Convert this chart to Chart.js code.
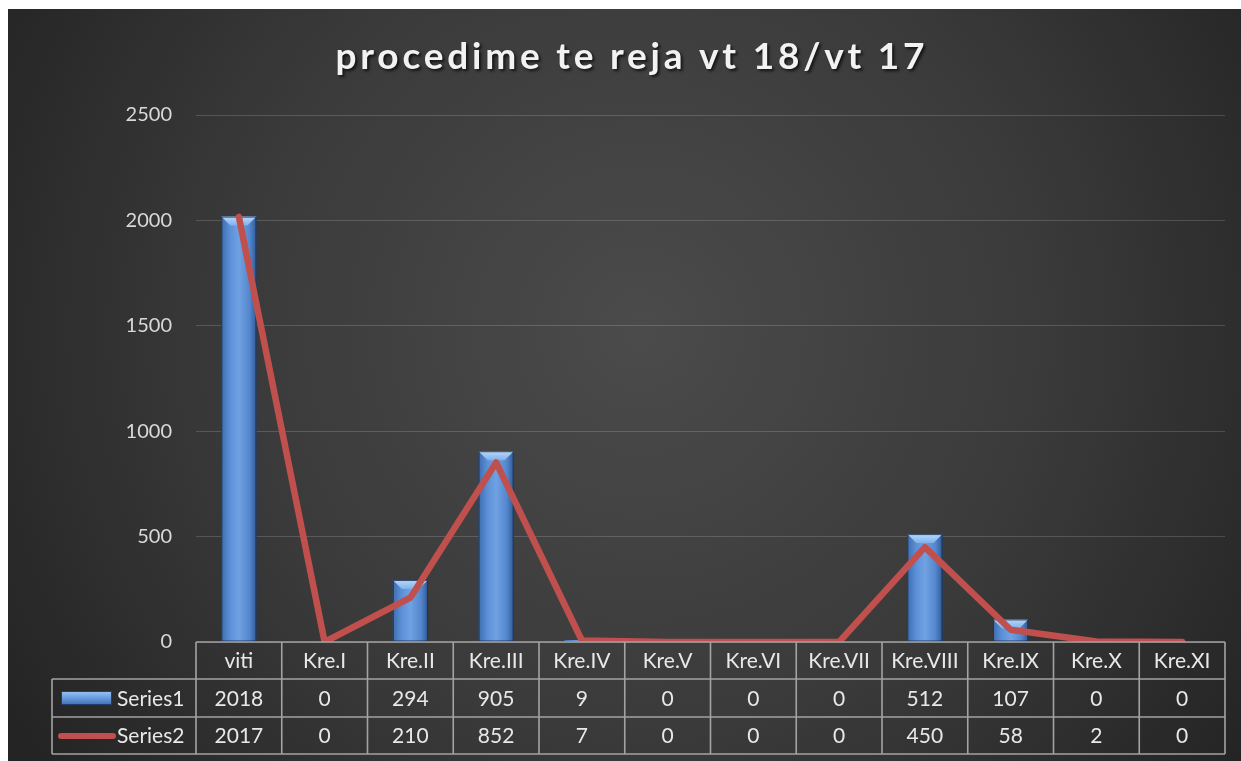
<!DOCTYPE html>
<html>
<head>
<meta charset="utf-8">
<script src="https://cdn.jsdelivr.net/npm/chart.js@4.4.1/dist/chart.umd.min.js"></script>
<style>
  html, body { margin: 0; padding: 0; background: #fff; }
  canvas { display: block; }
</style>
</head>
<body>
<canvas id="reportChart" width="1241" height="761"></canvas>
<script>
const categories = ['viti', 'Kre.I', 'Kre.II', 'Kre.III', 'Kre.IV', 'Kre.V', 'Kre.VI', 'Kre.VII', 'Kre.VIII', 'Kre.IX', 'Kre.X', 'Kre.XI'];
const series1 = [2018, 0, 294, 905, 9, 0, 0, 0, 512, 107, 0, 0];
const series2 = [2017, 0, 210, 852, 7, 0, 0, 0, 450, 58, 2, 0];
const seriesNames = ['Series1', 'Series2'];
const yMax = 2500;
const yStep = 500;
const titleText = 'procedime te reja vt 18/vt 17';

const BAR_PCT = 0.41;
const FONT = 'Lato, "Open Sans", sans-serif';

// bar fill: darker edges, light middle (like the office bevel)
function barFill(c) {
  const chart = c.chart;
  const area = chart.chartArea;
  const xs = chart.scales.x;
  if (!area || !xs || c.dataIndex == null) return '#4f81bd';
  const w = (area.width / categories.length) * BAR_PCT;
  const cx = xs.getPixelForValue(c.dataIndex);
  const g = chart.ctx.createLinearGradient(cx - w / 2, 0, cx + w / 2, 0);
  g.addColorStop(0, '#3d6cae');
  g.addColorStop(0.25, '#5c90d6');
  g.addColorStop(0.5, '#6fa1e3');
  g.addColorStop(0.8, '#5587ce');
  g.addColorStop(1, '#2f5a96');
  return g;
}

const background = {
  id: 'background',
  beforeDraw(chart) {
    const ctx = chart.ctx;
    ctx.save();
    ctx.fillStyle = '#ffffff';
    ctx.fillRect(0, 0, chart.width, chart.height);
    const g = ctx.createRadialGradient(640, 330, 0, 640, 330, 740);
    g.addColorStop(0, '#4b4b4b');
    g.addColorStop(0.55, '#3a3a3a');
    g.addColorStop(1, '#242424');
    ctx.fillStyle = g;
    ctx.fillRect(8, 9, chart.width - 8, chart.height - 9);
    ctx.restore();
  }
};

const bevel = {
  id: 'bevel',
  afterDatasetDraw(chart, args) {
    if (args.index !== 0) return;
    const ctx = chart.ctx;
    const meta = chart.getDatasetMeta(0);
    ctx.save();
    meta.data.forEach(bar => {
      const h = bar.base - bar.y;
      if (h < 4) return;
      const l = bar.x - bar.width / 2, r = bar.x + bar.width / 2;
      const d = Math.min(9, h / 2);
      const g = ctx.createLinearGradient(0, bar.y, 0, bar.y + d);
      g.addColorStop(0, '#b9d8fa');
      g.addColorStop(1, '#7fb0ea');
      ctx.fillStyle = g;
      ctx.beginPath();
      ctx.moveTo(l, bar.y);
      ctx.lineTo(r, bar.y);
      ctx.lineTo(r - d, bar.y + d);
      ctx.lineTo(l + d, bar.y + d);
      ctx.closePath();
      ctx.fill();
      ctx.strokeStyle = 'rgba(20,40,70,0.8)';
      ctx.lineWidth = 1;
      ctx.strokeRect(l + 0.5, bar.y + 0.5, bar.width - 1, h - 1);
    });
    ctx.restore();
  }
};

const titleAndTable = {
  id: 'titleAndTable',
  afterDraw(chart) {
    const ctx = chart.ctx;
    const area = chart.chartArea;
    const xs = chart.scales.x;
    const colW = area.width / categories.length;

    // title
    ctx.save();
    ctx.font = 'bold 37px ' + FONT;
    ctx.fillStyle = '#f2f2f2';
    ctx.textAlign = 'left';
    ctx.textBaseline = 'middle';
    const targetW = 589;
    const plainW = ctx.measureText(titleText).width;
    const spacing = Math.max(0, (targetW - plainW) / (titleText.length - 1));
    ctx.letterSpacing = spacing + 'px';
    ctx.shadowColor = 'rgba(0,0,0,0.7)';
    ctx.shadowBlur = 3;
    ctx.shadowOffsetX = 2;
    ctx.shadowOffsetY = 2;
    ctx.fillText(titleText, 630 - targetW / 2, 57);
    ctx.restore();

    // data table
    const top = area.bottom;
    const rowH = [37, 38, 37];
    const y1 = top + rowH[0], y2 = y1 + rowH[1], y3 = y2 + rowH[2];
    const legL = 52;
    ctx.save();
    ctx.strokeStyle = '#a3a3a3';
    ctx.lineWidth = 1.6;
    ctx.beginPath();
    ctx.moveTo(area.left, top); ctx.lineTo(area.right, top);
    ctx.moveTo(legL, y1); ctx.lineTo(area.right, y1);
    ctx.moveTo(legL, y2); ctx.lineTo(area.right, y2);
    ctx.moveTo(legL, y3); ctx.lineTo(area.right, y3);
    ctx.moveTo(legL, y1); ctx.lineTo(legL, y3);
    for (let i = 0; i <= categories.length; i++) {
      const x = area.left + i * colW;
      ctx.moveTo(x, top); ctx.lineTo(x, y3);
    }
    ctx.stroke();

    ctx.font = '21px ' + FONT;
    ctx.fillStyle = '#e8e8e8';
    ctx.textAlign = 'center';
    ctx.textBaseline = 'middle';
    categories.forEach((cat, i) => {
      const cx = xs.getPixelForValue(i);
      ctx.fillText(cat, cx, top + rowH[0] / 2 + 1);
      ctx.fillText(String(series1[i]), cx, y1 + rowH[1] / 2 + 1);
      ctx.fillText(String(series2[i]), cx, y2 + rowH[2] / 2 + 1);
    });

    // legend keys
    const sg = ctx.createLinearGradient(0, y1 + 12, 0, y1 + 27);
    sg.addColorStop(0, '#9cc6f5');
    sg.addColorStop(0.45, '#6a9ce0');
    sg.addColorStop(1, '#3b69aa');
    ctx.fillStyle = sg;
    ctx.fillRect(61, y1 + 12, 51, 14);
    ctx.strokeStyle = '#1f3f6f';
    ctx.lineWidth = 1;
    ctx.strokeRect(61.5, y1 + 12.5, 50, 13);

    ctx.strokeStyle = '#c0504d';
    ctx.lineWidth = 6;
    ctx.lineCap = 'round';
    ctx.beginPath();
    ctx.moveTo(61, y2 + 19);
    ctx.lineTo(113, y2 + 19);
    ctx.stroke();

    ctx.fillStyle = '#e8e8e8';
    ctx.textAlign = 'left';
    ctx.fillText(seriesNames[0], 117, y1 + rowH[1] / 2 + 1);
    ctx.fillText(seriesNames[1], 117, y2 + rowH[2] / 2 + 1);
    ctx.restore();
  }
};

const ctx = document.getElementById('reportChart').getContext('2d');

const reportChart = new Chart(ctx, {
  type: 'bar',
  data: {
    labels: categories,
    datasets: [{
      label: seriesNames[0],
      data: series1,
      backgroundColor: barFill,
      barPercentage: BAR_PCT,
      categoryPercentage: 1,
      order: 1
    }, {
      type: 'line',
      label: seriesNames[1],
      data: series2,
      borderColor: '#c0504d',
      borderWidth: 6.5,
      borderCapStyle: 'round',
      borderJoinStyle: 'round',
      pointRadius: 0,
      tension: 0,
      order: 0
    }]
  },
  options: {
    responsive: false,
    animation: false,
    layout: {
      padding: { top: 115, bottom: 119, left: 0, right: 16 }
    },
    scales: {
      x: {
        display: false
      },
      y: {
        min: 0,
        max: yMax,
        afterFit(scale) { scale.width = 196; },
        border: { display: false },
        grid: { color: 'rgba(255,255,255,0.16)', lineWidth: 1, drawTicks: false },
        ticks: {
          stepSize: yStep,
          padding: 24,
          color: '#d9d9d9',
          font: { family: FONT, size: 20 },
          callback: v => String(v)
        }
      }
    },
    plugins: {
      legend: { display: false },
      title: { display: false },
      tooltip: { enabled: false }
    }
  },
  plugins: [background, bevel, titleAndTable]
});
</script>
</body>
</html>
